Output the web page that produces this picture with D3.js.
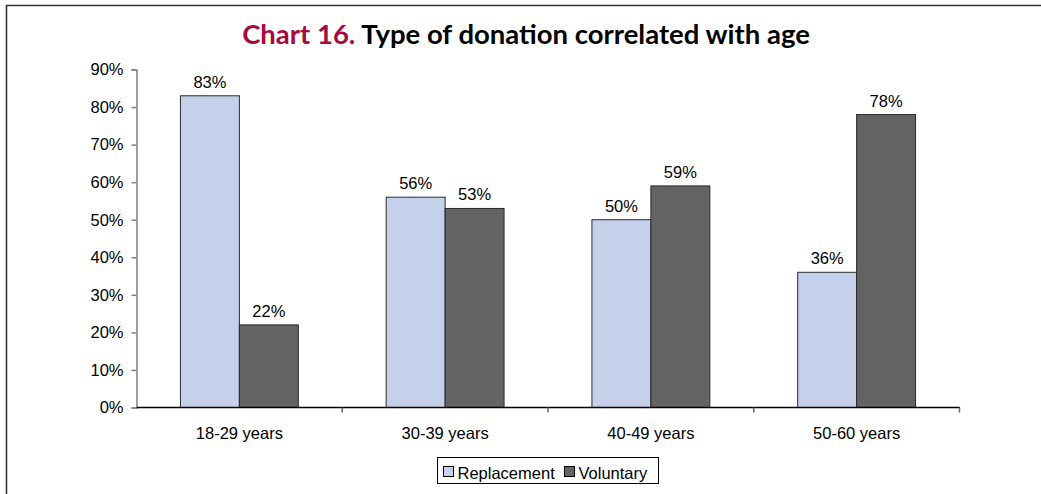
<!DOCTYPE html>
<html>
<head>
<meta charset="utf-8">
<script src="https://cdn.jsdelivr.net/npm/d3@7"></script>
<style>
  html, body { margin: 0; padding: 0; background: #fff; }
  svg { display: block; }
</style>
</head>
<body>
<svg id="chart" width="1041" height="494"></svg>
<script>
// Age groups and the share of each donation type (percent)
const categories = ["18-29 years", "30-39 years", "40-49 years", "50-60 years"];
const seriesNames = ["Replacement", "Voluntary"];
const replacement = [83, 56, 50, 36];
const voluntary = [22, 53, 59, 78];
const yTicks = [0, 10, 20, 30, 40, 50, 60, 70, 80, 90];

const colors = { Replacement: "#c5d0ea", Voluntary: "#636363" };
const font = "'Liberation Sans', Arial, sans-serif";
const fontSize = "16.5px";

const svg = d3.select("#chart");

// Page frame (top and left rule)
svg.append("path")
  .attr("d", "M6.5,494 V5.5 H1041")
  .attr("fill", "none")
  .attr("stroke", "#333")
  .attr("stroke-width", 1.6);

// Title
const title = svg.append("text")
  .attr("x", 526)
  .attr("y", 44)
  .attr("text-anchor", "middle")
  .style("font-family", "'Lato', 'Open Sans', sans-serif")
  .style("font-weight", "bold")
  .style("font-size", "27.5px");
title.append("tspan").attr("fill", "#a8093f").text("Chart 16. ");
title.append("tspan").attr("fill", "#000").text("Type of donation correlated with age");

const plot = { left: 136.5, right: 959.5, top: 69.5, bottom: 407.5 };

const y = d3.scaleLinear().domain([0, 90]).range([plot.bottom, plot.top]);
const x0 = d3.scaleBand().domain(categories).range([plot.left, plot.right]).padding(0);
const bw = x0.bandwidth();
const gap = bw * 0.2135;
const x1 = d3.scaleBand().domain(seriesNames).range([gap, bw - gap]).padding(0);

const rows = categories.map((c, i) => ({
  category: c,
  values: [
    { series: "Replacement", value: replacement[i] },
    { series: "Voluntary", value: voluntary[i] }
  ]
}));

// Y axis
const yAxis = svg.append("g")
  .attr("transform", `translate(${plot.left},0)`)
  .call(d3.axisLeft(y).tickValues(yTicks).tickSize(5).tickPadding(8).tickFormat(d => d + "%"));
yAxis.select(".domain").attr("stroke", "#808080").attr("stroke-width", 1.5);
yAxis.selectAll(".tick line").attr("stroke", "#808080").attr("stroke-width", 1.5);
yAxis.selectAll(".tick text")
  .style("font-family", font).style("font-size", fontSize).attr("fill", "#000");

// Bars
const groups = svg.append("g").selectAll("g")
  .data(rows).join("g")
  .attr("transform", d => `translate(${x0(d.category)},0)`);

groups.selectAll("rect")
  .data(d => d.values).join("rect")
  .attr("x", d => x1(d.series))
  .attr("y", d => y(d.value))
  .attr("width", x1.bandwidth())
  .attr("height", d => plot.bottom - y(d.value))
  .attr("fill", d => colors[d.series])
  .attr("stroke", "#2a2a2a")
  .attr("stroke-width", 1);

// Value labels
groups.selectAll("text")
  .data(d => d.values).join("text")
  .attr("x", d => x1(d.series) + x1.bandwidth() / 2)
  .attr("y", d => y(d.value) - 8)
  .attr("text-anchor", "middle")
  .style("font-family", font).style("font-size", fontSize)
  .attr("fill", "#000")
  .text(d => d.value + "%");

// X axis with boundary ticks between categories
const xAxis = svg.append("g")
  .attr("transform", `translate(0,${plot.bottom})`);
xAxis.append("line")
  .attr("x1", plot.left).attr("x2", plot.right + 0.5)
  .attr("stroke", "#000").attr("stroke-width", 1.5);
const boundaries = categories.map(c => x0(c) + bw);
xAxis.selectAll(".btick")
  .data(boundaries).join("line")
  .attr("class", "btick")
  .attr("x1", d => d).attr("x2", d => d)
  .attr("y1", 0).attr("y2", 5)
  .attr("stroke", "#666").attr("stroke-width", 1.5);
xAxis.selectAll(".clabel")
  .data(categories).join("text")
  .attr("class", "clabel")
  .attr("x", d => x0(d) + bw / 2)
  .attr("y", 31)
  .attr("text-anchor", "middle")
  .style("font-family", font).style("font-size", fontSize)
  .attr("fill", "#000")
  .text(d => d);

// Legend
const legend = svg.append("g").attr("transform", "translate(437.5,457.5)");
legend.append("rect")
  .attr("width", 221).attr("height", 26)
  .attr("fill", "#fff").attr("stroke", "#000").attr("stroke-width", 1);
const items = [{ name: "Replacement", x: 6 }, { name: "Voluntary", x: 127 }];
items.forEach(it => {
  legend.append("rect")
    .attr("x", it.x).attr("y", 9)
    .attr("width", 10).attr("height", 10)
    .attr("fill", colors[it.name]).attr("stroke", "#000").attr("stroke-width", 1);
  legend.append("text")
    .attr("x", it.x + 14).attr("y", 21)
    .style("font-family", font).style("font-size", fontSize)
    .attr("fill", "#000")
    .text(it.name);
});
</script>
</body>
</html>
